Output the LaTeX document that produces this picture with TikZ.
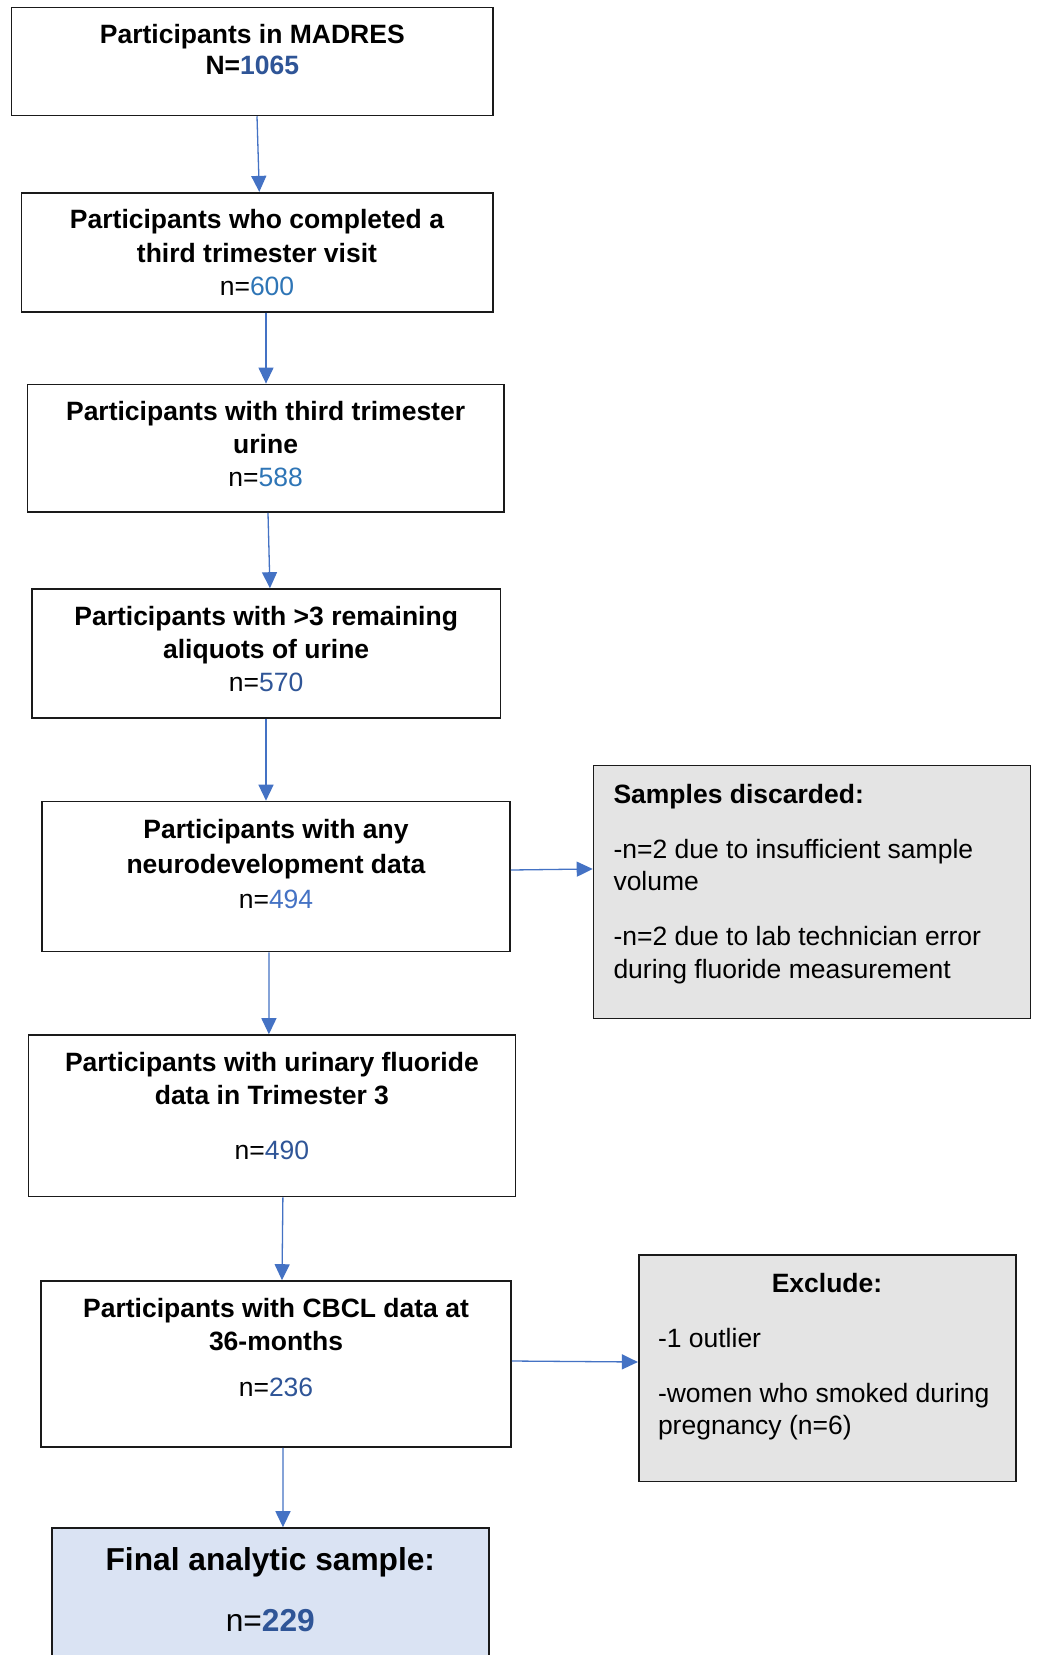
\documentclass[tikz,border=0pt]{standalone}
\usepackage{fontspec}
\setmainfont{Liberation Sans}
\usetikzlibrary{arrows.meta}
\definecolor{arrowblue}{HTML}{4472C4}
\definecolor{numdark}{HTML}{2F5597}
\definecolor{numlight}{HTML}{2E75B6}
\definecolor{nummid}{HTML}{4472C4}
\definecolor{sidegray}{HTML}{E4E4E4}
\definecolor{finalblue}{HTML}{DAE3F3}
\definecolor{edge}{HTML}{1A1A1A}
\tikzset{
  box/.style={draw=edge, line width=1.6pt, rectangle, inner sep=0pt},
  sidebox/.style={box, fill=sidegray},
  finalbox/.style={box, fill=finalblue},
  txt/.style={inner sep=0pt, outer sep=0pt, align=center, anchor=north, yshift=-1.2pt},
  sidetxt/.style={inner sep=0pt, outer sep=0pt, align=left, anchor=north west, yshift=-1.2pt},
  flow/.style={draw=arrowblue, line width=1.3pt, -{Triangle[width=15pt,length=16pt]}},
}
\newcommand{\fs}[1]{\fontsize{26.5pt}{#1pt}\selectfont}
\begin{document}
\begin{tikzpicture}[x=1pt,y=-1pt]
\clip (0,0) rectangle (1037,1655);
\fill[white] (0,0) rectangle (1037,1655);
% boxes
\node[box, minimum width=481.4pt, minimum height=108pt] (b1) at (252.3,61.45) {};
\node[box, minimum width=471.4pt, minimum height=119pt] (b2) at (257,252.2) {};
\node[box, minimum width=476.2pt, minimum height=127.6pt] (b3) at (265.6,448.2) {};
\node[box, minimum width=468.9pt, minimum height=129pt] (b4) at (266.15,653.5) {};
\node[box, minimum width=468pt, minimum height=150pt] (b5) at (276,876.5) {};
\node[box, minimum width=486.8pt, minimum height=161.5pt] (b6) at (271.9,1115.75) {};
\node[box, minimum width=470pt, minimum height=166pt] (b7) at (276,1364) {};
\node[finalbox, minimum width=437.3pt, minimum height=152pt] (b8) at (270.35,1604) {};
\node[sidebox, minimum width=436.8pt, minimum height=253.3pt] (s1) at (811.9,891.95) {};
\node[sidebox, minimum width=377.3pt, minimum height=226.6pt] (s2) at (827.35,1368.3) {};
% texts
\node[txt, font=\fs{30.6}] (t1) at (252.3,23.4)
  {\bfseries Participants in MADRES\\\bfseries N=\textcolor{numdark}{1065}};
\node[txt, font=\fs{33.3}] (t2) at (257,208.4)
  {\bfseries Participants who completed a\\\bfseries third trimester visit\\n=\textcolor{numlight}{600}};
\node[txt, font=\fs{32.75}] (t3) at (265.6,400.5)
  {\bfseries Participants with third trimester\\\bfseries urine\\n=\textcolor{numlight}{588}};
\node[txt, font=\fs{32.75}] (t4) at (266.15,605.3)
  {\bfseries Participants with >3 remaining\\\bfseries aliquots of urine\\n=\textcolor{numdark}{570}};
\node[txt, font=\fs{35.35}] (t5) at (276,817.7)
  {\bfseries Participants with any\\\bfseries neurodevelopment data\\n=\textcolor{nummid}{494}};
\node[txt, font=\fs{32.7}] (t6) at (271.9,1051)
  {\bfseries Participants with urinary fluoride\\\bfseries data in Trimester 3\\[22.3pt]n=\textcolor{numdark}{490}};
\node[txt, font=\fs{32.7}] (t7) at (276,1297)
  {\bfseries Participants with CBCL data at\\\bfseries 36-months\\[13.8pt]n=\textcolor{numdark}{236}};
\node[txt, font=\fontsize{31.7pt}{60.7pt}\selectfont] (t8) at (270.35,1546.2)
  {\bfseries Final analytic sample:\\n=\textcolor{numdark}{\bfseries 229}};
\node[sidetxt, font=\fs{32.7}] (t9) at (613.5,782.7)
  {\bfseries Samples discarded:\\[22.3pt]-n=2 due to insufficient sample\\volume\\[22.3pt]-n=2 due to lab technician error\\during fluoride measurement};
\node[txt, font=\fs{32.7}] (t10) at (827,1271.7) {\bfseries Exclude:};
\node[sidetxt, font=\fs{32.7}] (t11) at (658,1327)
  {-1 outlier\\[22.1pt]-women who smoked during\\pregnancy (n=6)};
% connectors
\draw[flow] ([xshift=4.7pt]b1.south) -- ([xshift=2.3pt]b2.north);
\draw[flow] ([xshift=9pt]b2.south) -- ([xshift=0.4pt]b3.north);
\draw[flow] ([xshift=2.4pt]b3.south) -- ([xshift=3.8pt]b4.north);
\draw[flow] ([xshift=-0.15pt]b4.south) -- ([xshift=-10pt]b5.north);
\draw[flow] ([xshift=-7pt]b5.south) -- ([xshift=-3pt]b6.north);
\draw[flow] ([xshift=11pt]b6.south) -- ([xshift=6pt]b7.north);
\draw[flow] ([xshift=7pt]b7.south) -- ([xshift=12.6pt]b8.north);
\draw[flow] ([yshift=6.5pt]b5.east) -- ([yshift=23pt]s1.west);
\draw[flow] ([yshift=3pt]b7.east) -- ([yshift=6.3pt]s2.west);
\end{tikzpicture}
\end{document}
